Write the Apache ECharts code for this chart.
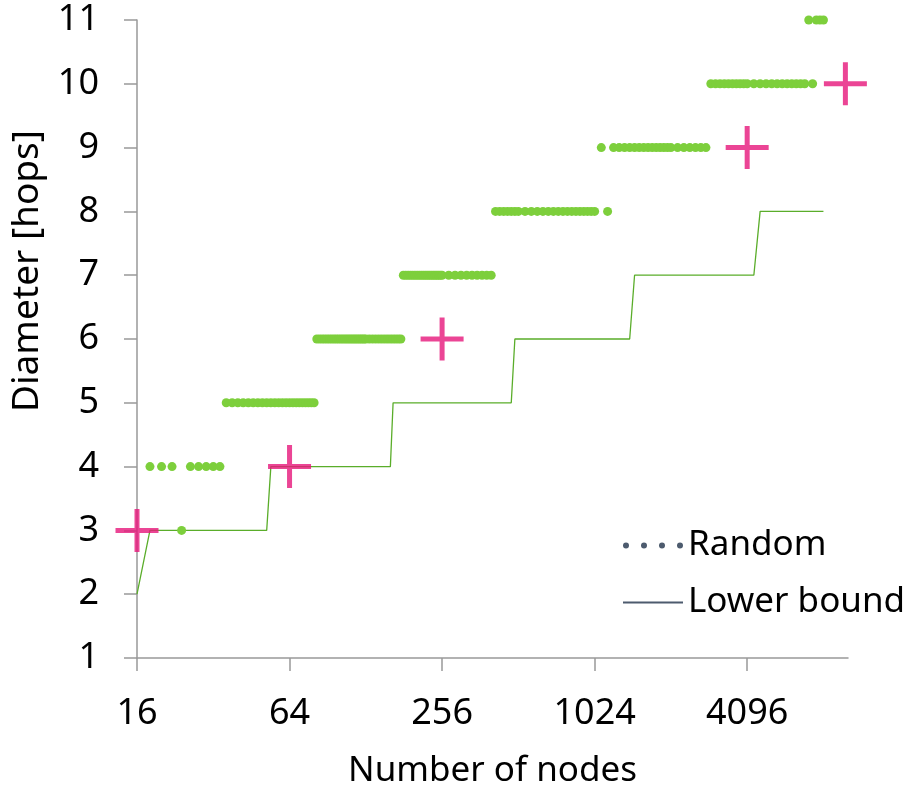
<!DOCTYPE html>
<html>
<head>
<meta charset="utf-8">
<script src="https://cdn.jsdelivr.net/npm/echarts@6/dist/echarts.min.js"></script>
<style>
html,body{margin:0;padding:0;background:#fff;}
#chart{width:910px;height:790px;}
</style>
</head>
<body>
<div id="chart"></div>
<script>
// X tick labels (number of nodes)
const xTicks = [16, 64, 256, 1024, 4096];
const xMin = 16;
const xMax = 10240;

// Random graphs: number of nodes for each observed diameter
const randomD3 = [24];
const randomD4 = [18, 20, 22, 26, 28, 30, 32, 34];
const randomD5 = [36, 38, 40, 42, 44, 46, 48, 50, 52, 54, 56, 58, 60, 62, 64, 66, 68, 70, 72, 74, 76, 78, 80];
const randomD6 = [82, 84, 86, 88, 90, 92, 94, 96, 98, 100, 102, 104, 106, 108, 110, 112, 114, 116, 118, 120, 122, 124, 126,
                  128, 132, 136, 140, 144, 148, 152, 156, 160, 164, 168, 172, 176];
const randomD7 = [180, 184, 188, 192, 196, 200, 204, 208, 212, 216, 220, 224, 228, 232, 236, 240, 244, 248, 252,
                  256, 272, 288, 304, 320, 336, 352, 368, 384, 400];
const randomD8 = [416, 432, 448, 464, 480, 496, 512, 544, 576, 608, 640, 672, 704, 736, 768, 800, 832, 864, 896, 928, 960, 992,
                  1024, 1152];
const randomD9 = [1088, 1216, 1280, 1344, 1408, 1472, 1536, 1600, 1664, 1728, 1792, 1856, 1920, 1984,
                  2048, 2176, 2304, 2432, 2560, 2688, 2816];
const randomD10 = [2944, 3072, 3200, 3328, 3456, 3584, 3712, 3840, 3968,
                   4096, 4352, 4608, 4864, 5120, 5376, 5632, 5888, 6144, 6400, 6656, 6912, 7424];
const randomD11 = [7168, 7680, 7936, 8192];

// Lower bound (step line)
const lowerN = [16, 18, 52, 54, 160, 164, 480, 496, 1408, 1472, 4352, 4608, 8192];
const lowerD = [2, 3, 3, 4, 4, 5, 5, 6, 6, 7, 7, 8, 8];

// Highlighted configurations (crosses)
const crossN = [16, 64, 256, 4096, 10000];
const crossD = [3, 4, 6, 9, 10];

const randomRows = [
  [3, randomD3], [4, randomD4], [5, randomD5], [6, randomD6], [7, randomD7],
  [8, randomD8], [9, randomD9], [10, randomD10], [11, randomD11]
];
const randomData = [];
randomRows.forEach(([d, ns]) => ns.forEach(n => randomData.push([n, d])));
const lowerData = lowerN.map((n, i) => [n, lowerD[i]]);
const crossData = crossN.map((n, i) => [n, crossD[i]]);

const FONT = '"Noto Sans", "Open Sans", sans-serif';
const AXIS_COLOR = '#999999';
const LEGEND_ICON = '#4d5b6e';

const chart = echarts.init(document.getElementById('chart'), null, {renderer: 'canvas'});
chart.setOption({
  backgroundColor: '#ffffff',
  animation: false,
  textStyle: {fontFamily: FONT},
  grid: {left: 137, right: 62, top: 20, bottom: 132, containLabel: false, outerBoundsMode: 'none'},
  legend: {
    orient: 'vertical',
    left: 618,
    top: 523,
    itemWidth: 60,
    itemHeight: 6,
    itemGap: 22,
    symbolKeepAspect: true,
    textStyle: {fontFamily: FONT, fontSize: 35, color: '#000'},
    data: [
      {name: 'Random',
       icon: 'path://M0,3a3,3 0 1,0 6,0a3,3 0 1,0 -6,0z M18,3a3,3 0 1,0 6,0a3,3 0 1,0 -6,0z M36,3a3,3 0 1,0 6,0a3,3 0 1,0 -6,0z M54,3a3,3 0 1,0 6,0a3,3 0 1,0 -6,0z',
       itemStyle: {color: LEGEND_ICON}},
      {name: 'Lower bound',
       icon: 'path://M0,0H60V2H0Z',
       itemStyle: {color: LEGEND_ICON},
       lineStyle: {color: LEGEND_ICON, width: 2}}
    ]
  },
  xAxis: {
    type: 'log',
    logBase: 4,
    min: xMin,
    max: xMax,
    name: 'Number of nodes',
    nameLocation: 'middle',
    nameGap: 96,
    nameTextStyle: {fontFamily: FONT, fontSize: 35, color: '#000'},
    axisLine: {show: true, lineStyle: {color: AXIS_COLOR, width: 1.5}},
    axisTick: {show: true, length: 13, inside: false, customValues: xTicks, lineStyle: {color: AXIS_COLOR, width: 1.5}},
    axisLabel: {customValues: xTicks, fontFamily: FONT, fontSize: 36, color: '#000', margin: 38,
                formatter: v => String(Math.round(v))},
    splitLine: {show: false},
    minorTick: {show: false}
  },
  yAxis: {
    type: 'value',
    min: 1,
    max: 11,
    interval: 1,
    name: 'Diameter [hops]',
    nameLocation: 'middle',
    nameGap: 91,
    nameRotate: 90,
    nameTextStyle: {fontFamily: FONT, fontSize: 37, color: '#000', padding: [0, 0, 0, 136]},
    axisLine: {show: true, lineStyle: {color: AXIS_COLOR, width: 1.5}},
    axisTick: {show: true, length: 13, inside: false, lineStyle: {color: AXIS_COLOR, width: 1.5}},
    axisLabel: {fontFamily: FONT, fontSize: 36, color: '#000', margin: 38},
    splitLine: {show: false}
  },
  series: [
    {
      name: 'Lower bound',
      type: 'line',
      data: lowerData,
      symbol: 'none',
      lineStyle: {color: '#5aad2a', width: 1.3},
      itemStyle: {color: '#5aad2a'},
      z: 2
    },
    {
      name: 'Random',
      type: 'scatter',
      data: randomData,
      symbol: 'circle',
      symbolSize: 9,
      itemStyle: {color: '#7dcf3c', opacity: 1},
      z: 3
    },
    {
      name: 'Best',
      type: 'scatter',
      data: crossData,
      symbol: 'path://M0,19H43V24H0Z M19,0H24V43H19Z',
      symbolSize: 43,
      itemStyle: {color: '#e6167a'},
      z: 4
    }
  ]
});
</script>
</body>
</html>
